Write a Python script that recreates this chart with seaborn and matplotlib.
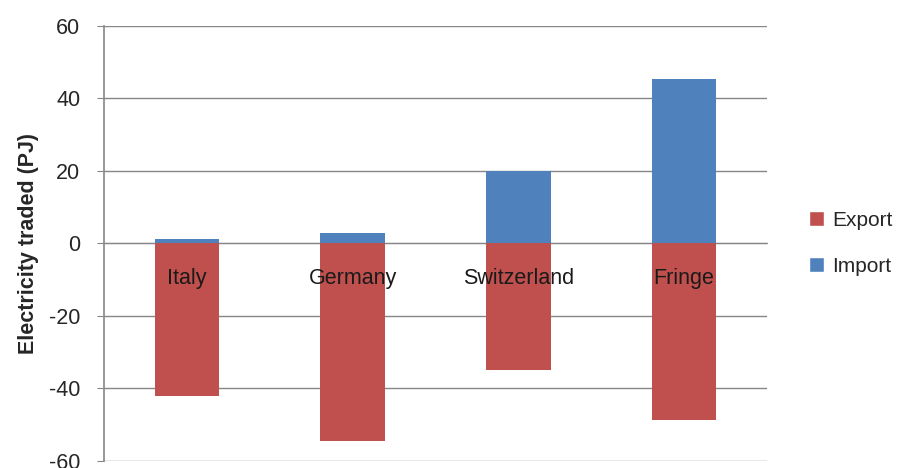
import numpy as np
import pandas as pd
import matplotlib
matplotlib.use("Agg")
import matplotlib.pyplot as plt
import seaborn as sns
from matplotlib.patches import Patch

countries = ["Italy", "Germany", "Switzerland", "Fringe"]
export_pj = [-42.2, -54.4, -35.0, -48.8]
import_pj = [1.3, 3.0, 20.0, 45.5]

export_color = "#C0504D"
import_color = "#4F81BD"
grid_color = "#868686"

df = pd.DataFrame({"country": countries, "Export": export_pj, "Import": import_pj})

sns.set_style("white")
plt.rcParams["font.family"] = ["Liberation Sans", "DejaVu Sans"]
plt.rcParams["axes.unicode_minus"] = False

fig = plt.figure(figsize=(9.09, 4.68), dpi=100)
ax = fig.add_axes([0.1144, 0.015, 0.7294, 0.9295])

sns.barplot(data=df, x="country", y="Export", color=export_color, width=0.39,
            saturation=1, linewidth=0, ax=ax, order=countries)
sns.barplot(data=df, x="country", y="Import", color=import_color, width=0.39,
            saturation=1, linewidth=0, ax=ax, order=countries)

ax.set_ylim(-60, 60)
ax.set_xlim(-0.5, len(countries) - 0.5)
ax.set_yticks(np.arange(-60, 61, 20))
ax.yaxis.grid(True, color=grid_color, linewidth=1)
ax.xaxis.grid(False)

# x axis sits on zero, labels drawn over the bars, grid behind them
ax.spines["bottom"].set_position(("data", 0))
ax.spines["bottom"].set_color(grid_color)
ax.spines["bottom"].set_zorder(0.6)
ax.spines["left"].set_color(grid_color)
ax.spines["left"].set_linewidth(1.2)
for s in ["top", "right"]:
    ax.spines[s].set_visible(False)
ax.yaxis.set_zorder(0.5)
ax.xaxis.set_zorder(3)

ax.set_xticks(range(len(countries)))
ax.set_xticklabels(countries)
ax.set_xticks(np.arange(-0.5, len(countries), 1), minor=True)
ax.tick_params(axis="x", which="major", length=0, pad=18, labelsize=15.5, labelcolor="#1a1a1a")
ax.tick_params(axis="x", which="minor", length=5, color=grid_color, direction="out")
ax.tick_params(axis="y", which="major", length=5, color=grid_color, direction="out",
               labelsize=15.5, labelcolor="#262626", pad=12, left=True)

ax.set_xlabel("")
ax.set_ylabel("Electricity traded (PJ)", fontsize=15.5, fontweight="bold", labelpad=7)

handles = [Patch(facecolor=export_color, label="Export"),
           Patch(facecolor=import_color, label="Import")]
ax.legend(handles=handles, loc="center left", bbox_to_anchor=(1.035, 0.50),
          frameon=False, fontsize=15, handlelength=0.7, handleheight=0.7,
          handletextpad=0.4, labelspacing=1.3)

fig.savefig("out.png", dpi=100)
